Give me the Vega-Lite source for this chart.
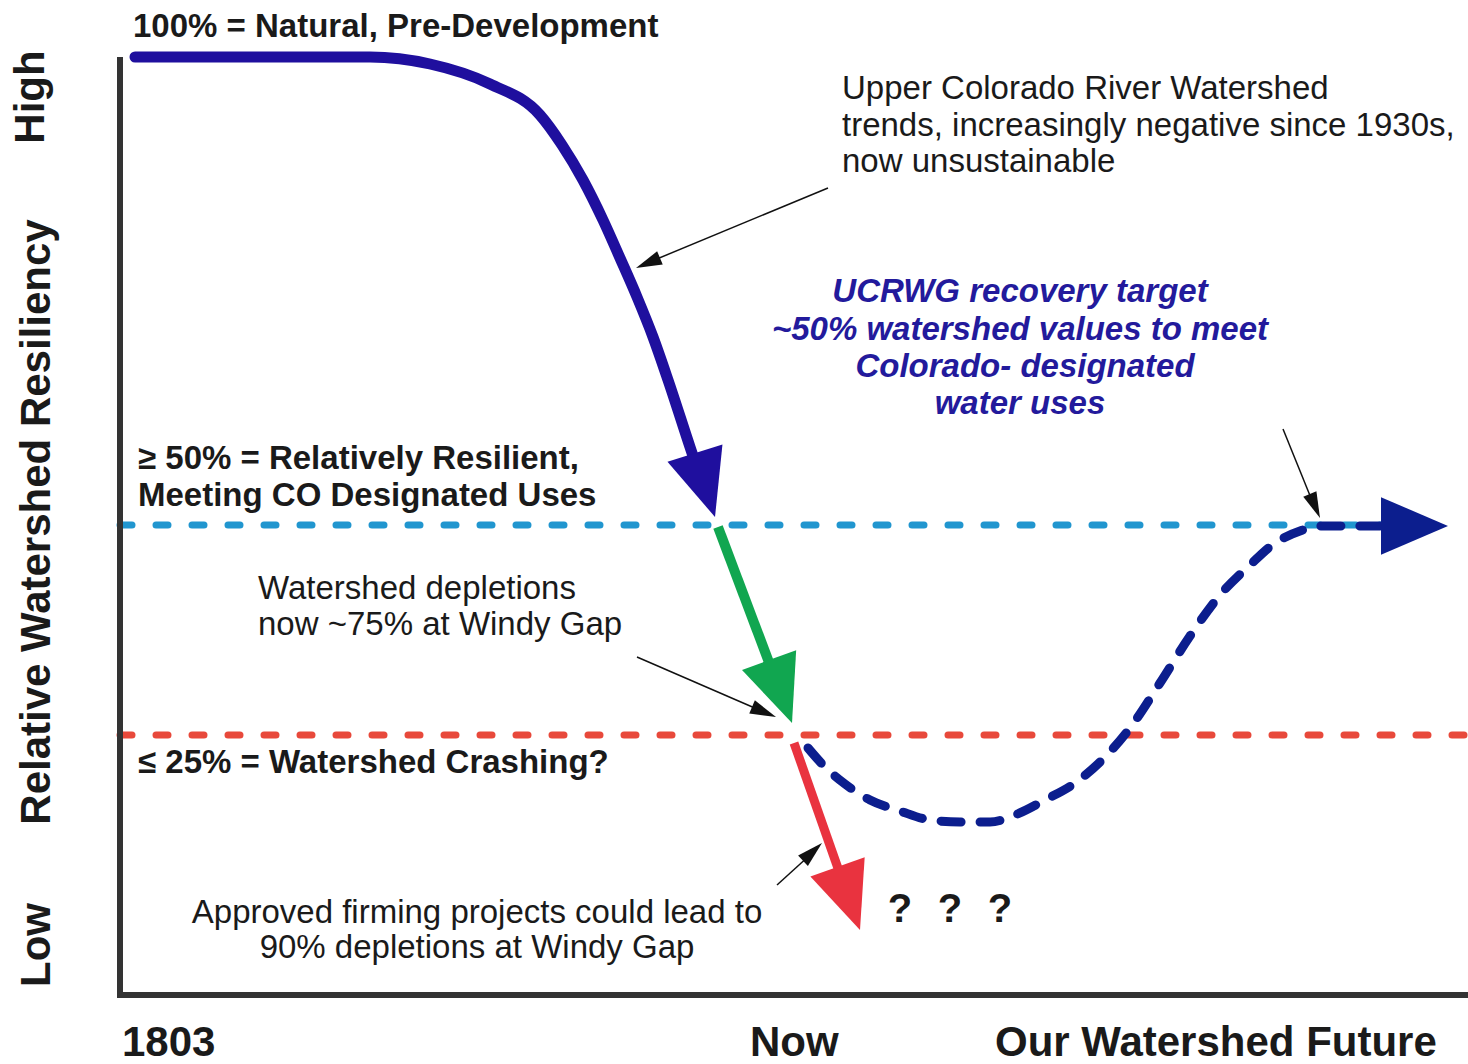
{
  "$schema": "https://vega.github.io/schema/vega-lite/v6.json",
  "width": 1468,
  "height": 1064,
  "autosize": {"type": "none"},
  "padding": 0,
  "background": "white",
  "config": {"view": {"stroke": null}},
  "datasets": {
    "paths": [
      {"path": "ref50", "i": 0, "x": 120, "y": 525},
      {"path": "ref50", "i": 1, "x": 1450, "y": 525},
      {"path": "ref25", "i": 0, "x": 120, "y": 735},
      {"path": "ref25", "i": 1, "x": 1468, "y": 735},
      {"path": "axisY", "i": 0, "x": 120, "y": 57},
      {"path": "axisY", "i": 1, "x": 120, "y": 997},
      {"path": "axisX", "i": 0, "x": 117, "y": 995},
      {"path": "axisX", "i": 1, "x": 1468, "y": 995},
      {"path": "trend", "i": 0, "x": 135, "y": 57},
      {"path": "trend", "i": 1, "x": 370, "y": 57},
      {"path": "trend", "i": 2, "x": 430, "y": 64},
      {"path": "trend", "i": 3, "x": 490, "y": 84},
      {"path": "trend", "i": 4, "x": 540, "y": 115},
      {"path": "trend", "i": 5, "x": 562, "y": 145},
      {"path": "trend", "i": 6, "x": 583, "y": 180},
      {"path": "trend", "i": 7, "x": 603, "y": 220},
      {"path": "trend", "i": 8, "x": 620, "y": 258},
      {"path": "trend", "i": 9, "x": 637, "y": 297},
      {"path": "trend", "i": 10, "x": 653, "y": 337},
      {"path": "trend", "i": 11, "x": 668, "y": 380},
      {"path": "trend", "i": 12, "x": 690, "y": 447},
      {"path": "trend", "i": 13, "x": 695, "y": 462},
      {"path": "now", "i": 0, "x": 718, "y": 527},
      {"path": "now", "i": 1, "x": 770, "y": 665},
      {"path": "firming", "i": 0, "x": 794, "y": 743},
      {"path": "firming", "i": 1, "x": 840, "y": 874},
      {"path": "recovery", "i": 0, "x": 808, "y": 748},
      {"path": "recovery", "i": 1, "x": 825, "y": 767},
      {"path": "recovery", "i": 2, "x": 845, "y": 784},
      {"path": "recovery", "i": 3, "x": 870, "y": 800},
      {"path": "recovery", "i": 4, "x": 900, "y": 811},
      {"path": "recovery", "i": 5, "x": 930, "y": 820},
      {"path": "recovery", "i": 6, "x": 960, "y": 822},
      {"path": "recovery", "i": 7, "x": 990, "y": 822},
      {"path": "recovery", "i": 8, "x": 1015, "y": 815},
      {"path": "recovery", "i": 9, "x": 1045, "y": 800},
      {"path": "recovery", "i": 10, "x": 1075, "y": 783},
      {"path": "recovery", "i": 11, "x": 1105, "y": 757},
      {"path": "recovery", "i": 12, "x": 1130, "y": 728},
      {"path": "recovery", "i": 13, "x": 1160, "y": 683},
      {"path": "recovery", "i": 14, "x": 1190, "y": 636},
      {"path": "recovery", "i": 15, "x": 1220, "y": 595},
      {"path": "recovery", "i": 16, "x": 1250, "y": 565},
      {"path": "recovery", "i": 17, "x": 1275, "y": 543},
      {"path": "recovery", "i": 18, "x": 1300, "y": 531},
      {"path": "recovery", "i": 19, "x": 1320, "y": 526},
      {"path": "recovery", "i": 20, "x": 1385, "y": 526},
      {"path": "noteA", "i": 0, "x": 828, "y": 188},
      {"path": "noteA", "i": 1, "x": 652, "y": 261},
      {"path": "noteB", "i": 0, "x": 1283, "y": 429},
      {"path": "noteB", "i": 1, "x": 1313, "y": 503},
      {"path": "noteC", "i": 0, "x": 637, "y": 657},
      {"path": "noteC", "i": 1, "x": 757, "y": 709},
      {"path": "noteD", "i": 0, "x": 777, "y": 885},
      {"path": "noteD", "i": 1, "x": 810, "y": 855}
    ],
    "bigHeads": [
      {"series": "trend", "x": 715, "y": 517, "heading": 162.6},
      {"series": "now", "x": 792, "y": 723, "heading": 160},
      {"series": "firming", "x": 860, "y": 930, "heading": 160.4},
      {"series": "recovery", "x": 1448, "y": 526, "heading": 90}
    ],
    "smallHeads": [
      {"series": "noteA", "x": 636, "y": 268, "heading": 247},
      {"series": "noteB", "x": 1320, "y": 518, "heading": 157},
      {"series": "noteC", "x": 776, "y": 717, "heading": 113},
      {"series": "noteD", "x": 822, "y": 843, "heading": 47}
    ],
    "labels": [
      {"group": "boldL", "text": "100% = Natural, Pre-Development", "x": 133, "y": 27},
      {"group": "boldL", "text": "≥ 50% = Relatively Resilient,", "x": 138, "y": 459},
      {"group": "boldL", "text": "Meeting CO Designated Uses", "x": 138, "y": 496},
      {"group": "boldL", "text": "≤ 25% = Watershed Crashing?", "x": 138, "y": 763},
      {"group": "regL", "text": "Upper Colorado River Watershed", "x": 842, "y": 89},
      {"group": "regL", "text": "trends, increasingly negative since 1930s,", "x": 842, "y": 126},
      {"group": "regL", "text": "now unsustainable", "x": 842, "y": 162},
      {"group": "regL", "text": "Watershed depletions", "x": 258, "y": 589},
      {"group": "regL", "text": "now ~75% at Windy Gap", "x": 258, "y": 625},
      {"group": "regC", "text": "Approved firming projects could lead to", "x": 477, "y": 913},
      {"group": "regC", "text": "90% depletions at Windy Gap", "x": 477, "y": 948},
      {"group": "navy", "text": "UCRWG recovery target", "x": 1020, "y": 292},
      {"group": "navy", "text": "~50% watershed values to meet", "x": 1020, "y": 330},
      {"group": "navy", "text": "Colorado- designated", "x": 1025, "y": 367},
      {"group": "navy", "text": "water uses", "x": 1020, "y": 404},
      {"group": "big", "text": "1803", "x": 122, "y": 1043},
      {"group": "big", "text": "Now", "x": 750, "y": 1043},
      {"group": "big", "text": "Our Watershed Future", "x": 995, "y": 1043},
      {"group": "q", "text": "?", "x": 900, "y": 910},
      {"group": "q", "text": "?", "x": 950, "y": 910},
      {"group": "q", "text": "?", "x": 1000, "y": 910},
      {"group": "rot", "text": "High", "x": 31, "y": 97},
      {"group": "rot", "text": "Relative Watershed Resiliency", "x": 37, "y": 522},
      {"group": "rot", "text": "Low", "x": 37, "y": 945}
    ]
  },
  "encoding": {
    "x": {"field": "x", "type": "quantitative", "scale": {"domain": [0, 1468], "nice": false, "zero": false}, "axis": null},
    "y": {"field": "y", "type": "quantitative", "scale": {"domain": [0, 1064], "reverse": true, "nice": false, "zero": false}, "axis": null}
  },
  "layer": [
    {
      "data": {"name": "paths"},
      "transform": [{"filter": {"field": "path", "equal": "ref50"}}],
      "mark": {"type": "line", "color": "#2196cf", "strokeWidth": 7, "strokeDash": [12, 24], "strokeCap": "round"},
      "encoding": {"order": {"field": "i"}}
    },
    {
      "data": {"name": "paths"},
      "transform": [{"filter": {"field": "path", "equal": "ref25"}}],
      "mark": {"type": "line", "color": "#e8493b", "strokeWidth": 7, "strokeDash": [12, 24], "strokeCap": "round"},
      "encoding": {"order": {"field": "i"}}
    },
    {
      "data": {"name": "paths"},
      "transform": [{"filter": {"field": "path", "oneOf": ["axisX", "axisY"]}}],
      "mark": {"type": "line", "color": "#333333", "strokeWidth": 6},
      "encoding": {"order": {"field": "i"}, "detail": {"field": "path"}}
    },
    {
      "data": {"name": "paths"},
      "transform": [{"filter": {"field": "path", "equal": "trend"}}],
      "mark": {"type": "line", "color": "#1f0f9e", "strokeWidth": 11, "strokeCap": "round", "interpolate": "monotone"},
      "encoding": {"order": {"field": "i"}}
    },
    {
      "data": {"name": "paths"},
      "transform": [{"filter": {"field": "path", "equal": "now"}}],
      "mark": {"type": "line", "color": "#11a650", "strokeWidth": 10},
      "encoding": {"order": {"field": "i"}}
    },
    {
      "data": {"name": "paths"},
      "transform": [{"filter": {"field": "path", "equal": "firming"}}],
      "mark": {"type": "line", "color": "#e9333f", "strokeWidth": 9},
      "encoding": {"order": {"field": "i"}}
    },
    {
      "data": {"name": "paths"},
      "transform": [{"filter": {"field": "path", "equal": "recovery"}}],
      "mark": {"type": "line", "color": "#0c1e8e", "strokeWidth": 9, "strokeDash": [20, 19], "strokeCap": "round", "interpolate": "monotone"},
      "encoding": {"order": {"field": "i"}}
    },
    {
      "data": {"name": "paths"},
      "transform": [{"filter": {"field": "path", "oneOf": ["noteA", "noteB", "noteC", "noteD"]}}],
      "mark": {"type": "line", "color": "#111111", "strokeWidth": 1.5},
      "encoding": {"order": {"field": "i"}, "detail": {"field": "path"}}
    },
    {
      "data": {"name": "bigHeads"},
      "mark": {"type": "point", "shape": "M0,0L0.86,2L-0.86,2Z", "size": 4489, "filled": true, "opacity": 1, "strokeWidth": 0},
      "encoding": {
        "angle": {"field": "heading", "type": "quantitative", "scale": null},
        "color": {"field": "series", "type": "nominal", "legend": null,
          "scale": {"domain": ["trend", "now", "firming", "recovery"], "range": ["#1f0f9e", "#11a650", "#e9333f", "#0c1e8e"]}}
      }
    },
    {
      "data": {"name": "smallHeads"},
      "mark": {"type": "point", "shape": "M0,0L0.55,2L-0.55,2Z", "size": 676, "filled": true, "opacity": 1, "strokeWidth": 0, "color": "#111111"},
      "encoding": {"angle": {"field": "heading", "type": "quantitative", "scale": null}}
    },
    {
      "data": {"name": "labels"},
      "transform": [{"filter": {"field": "group", "equal": "boldL"}}],
      "mark": {"type": "text", "font": "Liberation Sans", "fontWeight": "bold", "fontSize": 33, "align": "left", "baseline": "middle", "color": "#1a1a1a"},
      "encoding": {"text": {"field": "text"}}
    },
    {
      "data": {"name": "labels"},
      "transform": [{"filter": {"field": "group", "equal": "regL"}}],
      "mark": {"type": "text", "font": "Liberation Sans", "fontSize": 33, "align": "left", "baseline": "middle", "color": "#1a1a1a"},
      "encoding": {"text": {"field": "text"}}
    },
    {
      "data": {"name": "labels"},
      "transform": [{"filter": {"field": "group", "equal": "regC"}}],
      "mark": {"type": "text", "font": "Liberation Sans", "fontSize": 33, "align": "center", "baseline": "middle", "color": "#1a1a1a"},
      "encoding": {"text": {"field": "text"}}
    },
    {
      "data": {"name": "labels"},
      "transform": [{"filter": {"field": "group", "equal": "navy"}}],
      "mark": {"type": "text", "font": "Liberation Sans", "fontWeight": "bold", "fontStyle": "italic", "fontSize": 33, "align": "center", "baseline": "middle", "color": "#231a9c"},
      "encoding": {"text": {"field": "text"}}
    },
    {
      "data": {"name": "labels"},
      "transform": [{"filter": {"field": "group", "equal": "big"}}],
      "mark": {"type": "text", "font": "Liberation Sans", "fontWeight": "bold", "fontSize": 42, "align": "left", "baseline": "middle", "color": "#1a1a1a"},
      "encoding": {"text": {"field": "text"}}
    },
    {
      "data": {"name": "labels"},
      "transform": [{"filter": {"field": "group", "equal": "q"}}],
      "mark": {"type": "text", "font": "Liberation Sans", "fontWeight": "bold", "fontSize": 40, "align": "center", "baseline": "middle", "color": "#1a1a1a"},
      "encoding": {"text": {"field": "text"}}
    },
    {
      "data": {"name": "labels"},
      "transform": [{"filter": {"field": "group", "equal": "rot"}}],
      "mark": {"type": "text", "font": "Liberation Sans", "fontWeight": "bold", "fontSize": 42, "align": "center", "baseline": "middle", "angle": 270, "color": "#1a1a1a"},
      "encoding": {"text": {"field": "text"}}
    }
  ]
}
